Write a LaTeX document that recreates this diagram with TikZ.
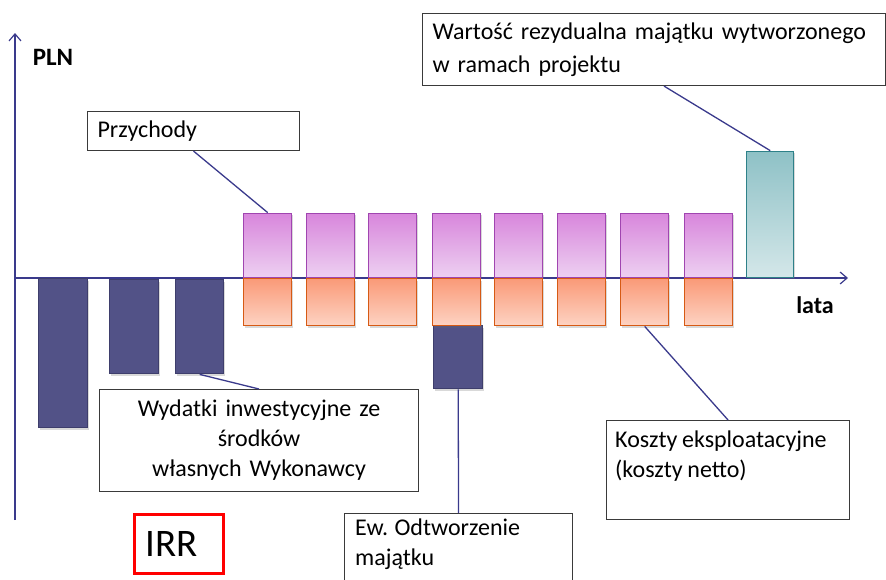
\documentclass[tikz,border=0pt]{standalone}
\usepackage{fontspec}
\setmainfont{Carlito}[WordSpace=0.85]
\usetikzlibrary{arrows.meta,shadows,calc}
\definecolor{axisblue}{HTML}{3A3A8C}
\definecolor{navyfill}{HTML}{525287}
\definecolor{navyedge}{HTML}{3E3E6C}
\definecolor{pinktop}{HTML}{D886DC}
\definecolor{pinkbot}{HTML}{EDD0F1}
\definecolor{pinkedge}{HTML}{A045B0}
\definecolor{orangetop}{HTML}{FA9A78}
\definecolor{orangebot}{HTML}{FDD3C3}
\definecolor{orangeedge}{HTML}{D65A14}
\definecolor{tealtop}{HTML}{8EC1C6}
\definecolor{tealbot}{HTML}{D4E7E9}
\definecolor{tealedge}{HTML}{2E8189}
\definecolor{boxedge}{HTML}{3A3A3A}
\definecolor{irrred}{HTML}{FF0000}
\tikzset{
  axisline/.style={draw=axisblue, line width=1.2pt, -{Straight Barb[length=7pt,width=12pt,line width=1.2pt]}},
  conn/.style={draw=axisblue, line width=1.3pt},
  barshadow/.style={drop shadow={opacity=0.25, shadow xshift=1pt, shadow yshift=-2pt, fill=black!60}},
  navybar/.style={draw=navyedge, fill=navyfill, line width=1.4pt, inner sep=0pt, barshadow},
  pinkbar/.style={draw=pinkedge, top color=pinktop, bottom color=pinkbot, line width=1.4pt, inner sep=0pt,
    minimum width=48pt, minimum height=64pt, barshadow},
  orangebar/.style={draw=orangeedge, top color=orangetop, bottom color=orangebot, line width=1.4pt, inner sep=0pt,
    minimum width=48pt, minimum height=47pt, barshadow},
  tealbar/.style={draw=tealedge, top color=tealtop, bottom color=tealbot, line width=1.4pt, inner sep=0pt, barshadow},
  textbox/.style={draw=boxedge, fill=white, line width=1.1pt, inner ysep=0pt, inner xsep=10pt,
    font=\fontsize{24}{33}\selectfont, text=black},
  plaintext/.style={inner sep=0pt, font=\fontsize{24}{30}\selectfont, text=black, align=left},
  axislabel/.style={inner sep=0pt, font=\fontsize{25}{28}\selectfont\bfseries, text=black},
}
\begin{document}
\begin{tikzpicture}[x=1pt,y=-1pt]
\useasboundingbox (0,0) rectangle (886,579);
\clip (0,0) rectangle (886,579);

% axes
\coordinate (origin) at (15,278);
\coordinate (ytop) at (15,33);
\coordinate (ybot) at (15,520);
\coordinate (xend) at (848,278);
\draw[axisline] (ybot) -- (ytop);
\draw[axisline] (origin) -- (xend);
\node[axislabel] (pln) at (53,57) {PLN};
\node[axislabel, font=\fontsize{24}{28}\selectfont\bfseries] (lata) at (815,305) {lata};

% investment bars (negative)
\node[navybar, anchor=north west, minimum width=49pt, minimum height=149pt] (n1) at (38,278) {};
\node[navybar, anchor=north west, minimum width=49pt, minimum height=94pt] (n2) at (109,279) {};
\node[navybar, anchor=north west, minimum width=48pt, minimum height=94pt] (n3) at (175,279) {};
\node[navybar, anchor=north west, minimum width=49pt, minimum height=63pt] (n4) at (433,325) {};

% revenue / cost bars
\foreach \x [count=\i] in {243,306,368,432,494,557,620,684} {
  \node[pinkbar, anchor=south west] (p\i) at (\x,278) {};
  \node[orangebar, anchor=north west] (o\i) at (\x,278) {};
}

% residual value bar
\node[tealbar, anchor=south west, minimum width=47pt, minimum height=126pt] (t) at (746,278) {};

% text boxes
\node[textbox, anchor=north west, text width=192pt, align=left, minimum height=39pt] (przbox) at (87,111) {Przychody};
\node[textbox, anchor=north west, text width=443pt, align=left, minimum height=72pt] (wbox) at (422,13)
  {Wartość rezydualna majątku wytworzonego\\ w ramach projektu};
\node[textbox, anchor=north west, text width=299pt, align=center, minimum height=102pt,
  font=\fontsize{24}{30}\selectfont] (wydbox) at (99,389)
  {Wydatki inwestycyjne ze\\ środków\\ własnych Wykonawcy};
\node[textbox, anchor=north west, minimum width=243pt, minimum height=99pt, inner xsep=0pt] (kbox) at (606,420) {};
\node[plaintext, anchor=north west] (ktext) at (615,431) {Koszty eksploatacyjne\\(koszty netto)};
\node[textbox, anchor=north west, minimum width=228pt, minimum height=100pt, inner xsep=0pt] (ewbox) at (344,513) {};
\node[plaintext, anchor=north west] (ewtext) at (355,519) {Ew. Odtworzenie\\majątku};
\node[draw=irrred, line width=3pt, anchor=north west, minimum height=59pt, text width=67pt, inner xsep=11pt,
  inner ysep=0pt, align=left, font=\fontsize{39}{42}\selectfont, text=black] (irr) at (133,513) {IRR};

% connectors
\draw[conn] (przbox.south) -- (p1.north);
\draw[conn] ([xshift=10pt]wbox.south) -- (t.north);
\draw[conn] (n3.south) -- (wydbox.north);
\draw[conn] (n4.south) -- (ewbox.north);
\draw[conn] (o7.south) -- (kbox.north);
\end{tikzpicture}
\end{document}
